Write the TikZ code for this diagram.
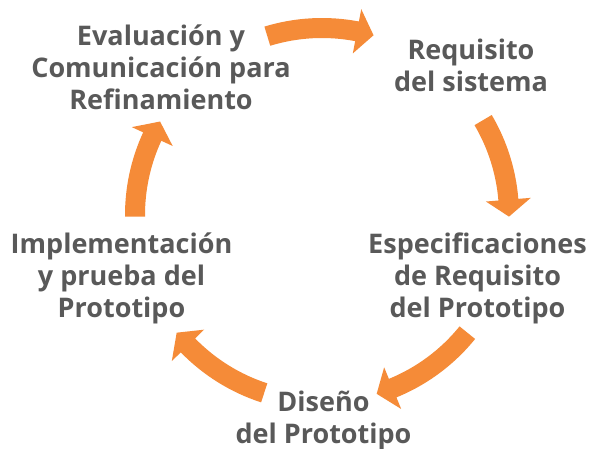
\documentclass[tikz,border=0pt]{standalone}
\usepackage{fontspec}
\setmainfont{Open Sans}[UprightFont=* Bold]
\definecolor{arroworange}{HTML}{F58B38}
\definecolor{textgray}{HTML}{595959}
\tikzset{
  arrowfill/.style={fill=arroworange},
  steplabel/.style={align=center, inner sep=0pt, anchor=base, text=textgray,
    font=\fontsize{27}{32}\selectfont}
}
\newcommand\cycarrow[3]{%
  \pgfmathsetmacro\hb{#3+5.2}%
  \fill[arrowfill, shift={(322pt,233pt)}] (#2:197pt) coordinate (#1)
    arc[start angle=#2, end angle=\hb, radius=197pt] -- (\hb:209.5pt)
    -- (#3:187pt) -- (\hb:164.5pt) -- (\hb:177pt)
    arc[start angle=\hb, end angle=#2, radius=177pt] -- cycle;}
\begin{document}
\begin{tikzpicture}[x=1pt,y=1pt]
\useasboundingbox (0,0) rectangle (592,448);
\fill[white] (0,0) rectangle (592,448);
\cycarrow{a1}{107}{74}
\cycarrow{a2}{30.5}{-0.5}
\cycarrow{a3}{-39}{-73}
\cycarrow{a4}{-108}{-141}
\cycarrow{a5}{180.5}{150}
\node[steplabel] (eval) at (161,338) {Evaluación y\\Comunicación para\\Refinamiento};
\node[steplabel] (req) at (471,356) {Requisito\\del sistema};
\node[steplabel] (spec) at (477.5,131) {Especificaciones\\de Requisito\\del Prototipo};
\node[steplabel] (dis) at (323.5,5) {Diseño\\del Prototipo};
\node[steplabel] (impl) at (121.5,131) {Implementación\\y prueba del\\Prototipo};
\end{tikzpicture}
\end{document}
